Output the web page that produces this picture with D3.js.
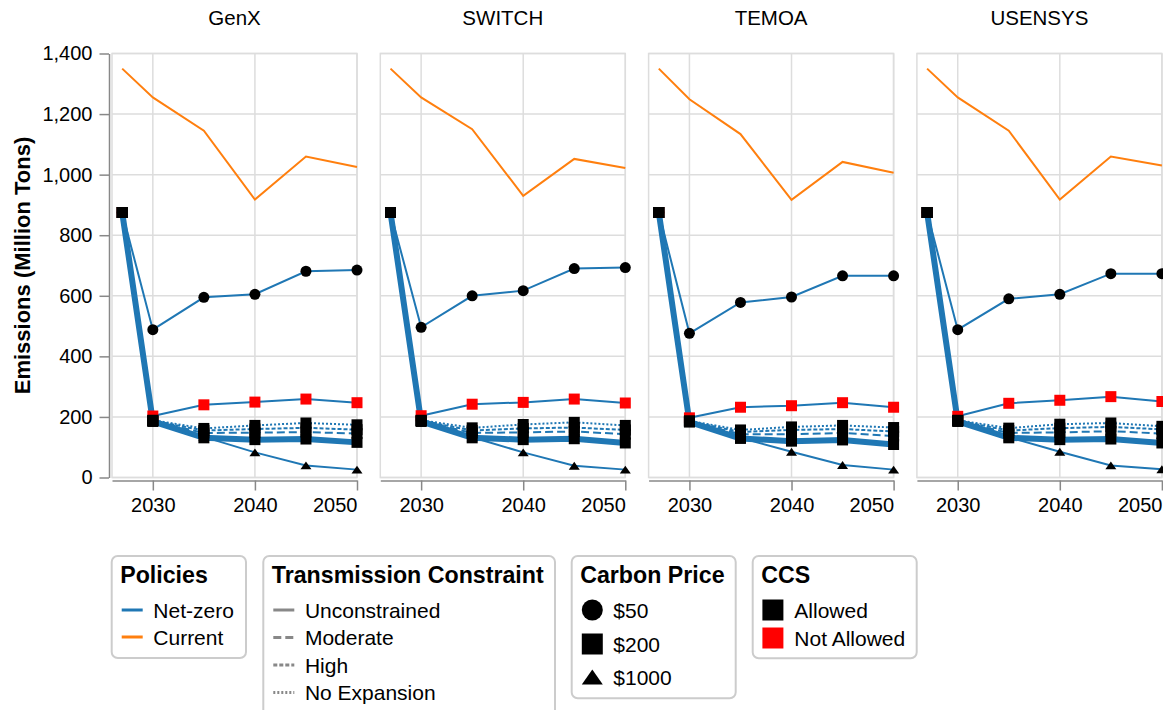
<!DOCTYPE html>
<html>
<head>
<meta charset="utf-8">
<script src="https://cdn.jsdelivr.net/npm/d3@7"></script>
<style>
  body { margin: 0; background: #fff; }
  svg { font-family: "Liberation Sans", Arial, sans-serif; }
</style>
</head>
<body>
<svg id="chart" width="1163" height="710"></svg>
<script>
const models = ["GenX", "SWITCH", "TEMOA", "USENSYS"];
const years = [2027, 2030, 2035, 2040, 2045, 2050];
const yTicks = [0, 200, 400, 600, 800, 1000, 1200, 1400];
const xTicks = [2030, 2040, 2050];

// net-zero scenarios (one entry per line)
const scenarioPrice = ["$50", "$1000", "$200", "$200", "$200", "$200", "$200"];
const scenarioCcs = ["Allowed", "Allowed", "Not Allowed", "Allowed", "Allowed", "Allowed", "Allowed"];
const scenarioTrans = ["Unconstrained", "Unconstrained", "Unconstrained", "No Expansion", "High", "Moderate", "Unconstrained"];

// current policy emissions by model
const currentGenX = [1350, 1255, 1145, 918, 1060, 1025];
const currentSwitch = [1350, 1255, 1150, 930, 1052, 1022];
const currentTemoa = [1350, 1249, 1134, 917, 1042, 1006];
const currentUsensys = [1350, 1255, 1145, 918, 1060, 1030];

// net-zero emissions by model, same order as the scenario lists
const netZeroGenX = [
  [875, 488, 595, 605, 681, 685],
  [875, 186, 134, 83, 40, 26],
  [875, 203, 240, 249, 259, 247],
  [875, 189, 162, 172, 180, 174],
  [875, 188, 155, 160, 164, 158],
  [875, 187, 147, 148, 150, 145],
  [875, 185, 131, 125, 127, 116]
];
const netZeroSwitch = [
  [875, 496, 600, 617, 690, 693],
  [875, 186, 133, 83, 39, 26],
  [875, 204, 242, 248, 259, 246],
  [875, 189, 164, 175, 182, 172],
  [875, 188, 155, 162, 165, 157],
  [875, 187, 147, 149, 152, 143],
  [875, 185, 131, 125, 128, 114]
];
const netZeroTemoa = [
  [875, 476, 578, 596, 666, 666],
  [875, 184, 131, 85, 41, 26],
  [875, 197, 232, 237, 247, 232],
  [875, 187, 157, 167, 172, 165],
  [875, 186, 150, 157, 160, 152],
  [875, 185, 143, 143, 147, 137],
  [875, 183, 129, 120, 124, 109]
];
const netZeroUsensys = [
  [875, 488, 590, 605, 673, 673],
  [875, 186, 133, 85, 40, 27],
  [875, 202, 245, 255, 267, 251],
  [875, 189, 163, 176, 180, 169],
  [875, 188, 155, 163, 167, 159],
  [875, 187, 147, 149, 153, 145],
  [875, 185, 131, 125, 127, 114]
];

const currentByModel = [currentGenX, currentSwitch, currentTemoa, currentUsensys];
const netZeroByModel = [netZeroGenX, netZeroSwitch, netZeroTemoa, netZeroUsensys];

const policyColor = {"Net-zero": "#1f77b4", "Current": "#ff7f0e"};
const dashFor = {"Unconstrained": null, "Moderate": "8,4", "High": "4,2", "No Expansion": "2,2"};
const shapeFor = {"$50": "circle", "$200": "square", "$1000": "triangle"};
const ccsColor = {"Allowed": "#000", "Not Allowed": "#ff0000"};

const svg = d3.select("#chart");
const panelW = 245, panelH = 424, panelTop = 53.5, left0 = 112, step = 268.3;

const x = d3.scaleLinear().domain([2026, 2050]).range([0, panelW]);
const y = d3.scaleLinear().domain([0, 1400]).range([panelH, 0]);

function shapePath(shape, s) {
  if (shape === "circle") return d3.symbol(d3.symbolCircle, Math.PI * (s / 2) * (s / 2))();
  if (shape === "square") return d3.symbol(d3.symbolSquare, s * s)();
  const h = 0.36 * s;
  return `M0,${-h}L${s / 2},${h}L${-s / 2},${h}Z`;
}

const line = d3.line()
  .x((d, i) => x(years[i]))
  .y(d => y(d));

models.forEach((model, mi) => {
  const g = svg.append("g")
    .attr("transform", `translate(${left0 + mi * step},${panelTop})`);

  // grid
  g.selectAll(".hgrid").data(yTicks).enter().append("line")
    .attr("x1", 0).attr("x2", panelW)
    .attr("y1", d => y(d)).attr("y2", d => y(d))
    .attr("stroke", "#ddd").attr("stroke-width", 1.5);
  g.selectAll(".vgrid").data(xTicks).enter().append("line")
    .attr("y1", 0).attr("y2", panelH)
    .attr("x1", d => x(d)).attr("x2", d => x(d))
    .attr("stroke", "#ddd").attr("stroke-width", 1.5);
  g.append("rect")
    .attr("width", panelW).attr("height", panelH)
    .attr("fill", "none").attr("stroke", "#ddd").attr("stroke-width", 1.5);

  // facet title
  g.append("text")
    .attr("x", panelW / 2).attr("y", 25 - panelTop)
    .attr("text-anchor", "middle")
    .style("font-size", "20.5px")
    .text(model);

  // x axis, last label flush with the end of the axis
  const xa = g.append("g")
    .attr("transform", `translate(0,${panelH + 3})`)
    .call(d3.axisBottom(x).tickValues(xTicks).tickFormat(d3.format("d"))
      .tickSize(10).tickPadding(7).tickSizeOuter(0));
  xa.select(".domain").attr("stroke", "#888").attr("stroke-width", 1.5);
  xa.selectAll(".tick line").attr("stroke", "#888").attr("stroke-width", 1.5);
  xa.selectAll(".tick text").attr("fill", "#000")
    .style("font-size", "20px").style("font-family", "Liberation Sans, Arial, sans-serif");
  xa.selectAll(".tick text").filter(d => d === x.domain()[1])
    .attr("text-anchor", "end");

  // current policy line
  g.append("path")
    .attr("d", line(currentByModel[mi]))
    .attr("fill", "none")
    .attr("stroke", policyColor["Current"])
    .attr("stroke-width", 2);

  // net-zero lines
  const nz = netZeroByModel[mi];
  nz.forEach((vals, si) => {
    const isBase = scenarioPrice[si] === "$200" && scenarioCcs[si] === "Allowed" && scenarioTrans[si] === "Unconstrained";
    g.append("path")
      .attr("d", line(vals))
      .attr("fill", "none")
      .attr("stroke", policyColor["Net-zero"])
      .attr("stroke-width", isBase ? 6 : 2)
      .attr("stroke-dasharray", dashFor[scenarioTrans[si]]);
  });

  // points
  nz.forEach((vals, si) => {
    g.selectAll(null).data(vals).enter().append("path")
      .attr("transform", (d, i) => `translate(${x(years[i])},${y(d)})`)
      .attr("d", shapePath(shapeFor[scenarioPrice[si]], 11))
      .attr("fill", ccsColor[scenarioCcs[si]]);
  });
});

// y axis on first panel
const ya = svg.append("g")
  .attr("transform", `translate(${left0 - 3},${panelTop})`)
  .call(d3.axisLeft(y).tickValues(yTicks).tickFormat(d3.format(","))
    .tickSize(9.5).tickPadding(7).tickSizeOuter(0));
ya.select(".domain").attr("stroke", "#888").attr("stroke-width", 1.5);
ya.selectAll(".tick line").attr("stroke", "#888").attr("stroke-width", 1.5);
ya.selectAll(".tick text").attr("fill", "#000")
  .style("font-size", "20px").style("font-family", "Liberation Sans, Arial, sans-serif");

svg.append("text")
  .attr("transform", `translate(30,${panelTop + panelH / 2}) rotate(-90)`)
  .attr("text-anchor", "middle")
  .style("font-size", "22px").style("font-weight", "bold")
  .text("Emissions (Million Tons)");

// legends
function legend(bx, bw, bh, title, items, rowYs, drawSymbol) {
  const lg = svg.append("g").attr("transform", `translate(${bx},556)`);
  lg.append("rect")
    .attr("x", 0).attr("y", 0).attr("width", bw).attr("height", bh)
    .attr("rx", 6).attr("fill", "#fff").attr("stroke", "#ccc").attr("stroke-width", 2);
  lg.append("text")
    .attr("x", 8.5).attr("y", 27)
    .style("font-size", "23.2px").style("font-weight", "bold")
    .text(title);
  items.forEach((it, i) => {
    const row = lg.append("g").attr("transform", `translate(0,${rowYs[i]})`);
    drawSymbol(row, it);
    row.append("text")
      .attr("x", 41.6).attr("y", 0).attr("dy", "0.36em")
      .style("font-size", "21px")
      .text(it);
  });
}

const policyItems = ["Net-zero", "Current"];
const transItems = ["Unconstrained", "Moderate", "High", "No Expansion"];
const priceItems = ["$50", "$200", "$1000"];
const ccsItems = ["Allowed", "Not Allowed"];

legend(111.7, 134.3, 102, "Policies", policyItems, [54, 81], (row, it) => {
  row.append("line").attr("x1", 10).attr("x2", 31)
    .attr("stroke", policyColor[it]).attr("stroke-width", 3);
});
legend(263.3, 291.7, 170, "Transmission Constraint", transItems, [54, 81.5, 109, 136.5], (row, it) => {
  row.append("line").attr("x1", 10).attr("x2", 31)
    .attr("stroke", "#888").attr("stroke-width", 3)
    .attr("stroke-dasharray", dashFor[it]);
});
legend(571.7, 164, 142.3, "Carbon Price", priceItems, [54, 88, 121], (row, it) => {
  row.append("path").attr("transform", "translate(20.6,0)")
    .attr("d", shapePath(shapeFor[it], 21)).attr("fill", "#000");
});
legend(752.7, 164, 102.3, "CCS", ccsItems, [54, 82], (row, it) => {
  row.append("path").attr("transform", "translate(20.2,0)")
    .attr("d", shapePath("square", 21)).attr("fill", ccsColor[it]);
});
</script>
</body>
</html>
